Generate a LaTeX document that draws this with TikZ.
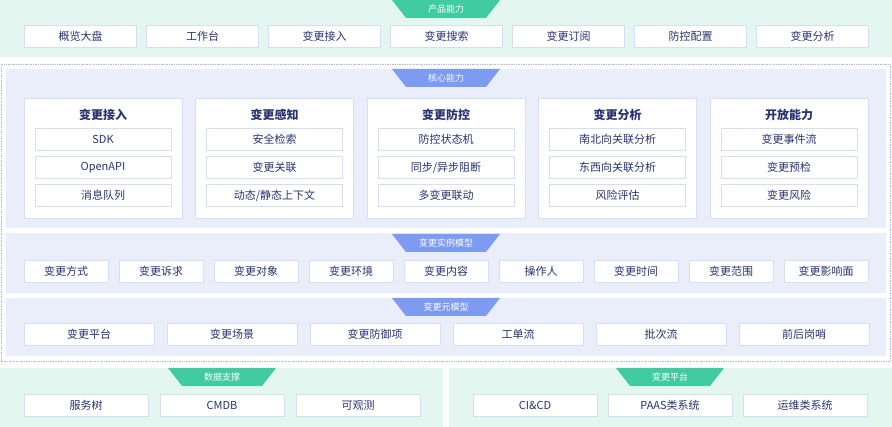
\documentclass[tikz,border=0pt]{standalone}
\usepackage{fontspec}
\setmainfont{Noto Sans CJK SC}
\definecolor{greenbg}{HTML}{E3F6F0}
\definecolor{greenban}{HTML}{41CCA0}
\definecolor{lavbg}{HTML}{EAEEFB}
\definecolor{blueban}{HTML}{7E9BF2}
\definecolor{boxline}{HTML}{D5DFF3}
\definecolor{navy}{HTML}{2A3272}
\definecolor{dotline}{HTML}{A9B9E3}
\tikzset{
  box/.style={draw=boxline, fill=white, line width=0.9pt, minimum height=22, inner sep=0pt, text=navy, font=\fontsize{11}{13}\selectfont},
  colbox/.style={draw=boxline, fill=white, line width=0.9pt, minimum width=158, minimum height=120, inner sep=0pt},
  coltitle/.style={text=navy, font=\fontsize{12}{14}\selectfont\bfseries, inner sep=0pt},
  bantext/.style={text=white, font=\fontsize{9}{11}\selectfont, inner sep=0pt},
  dotframe/.style={draw=dotline, line width=0.7pt, dash pattern=on 0.8pt off 0.9pt}
}
\newcommand\mybanner[4]{% cx, ytop, color, name/text
  \fill[#3] (#1-54,#2) -- (#1+54,#2) -- (#1+40,#2+18) -- (#1-40,#2+18) -- cycle;
}
\begin{document}
\begin{tikzpicture}[x=1pt,y=-1pt]
\useasboundingbox (0,0) rectangle (892,427);
% backgrounds
\fill[greenbg] (0,0) rectangle (892,57);
\draw[dotframe] (1,64.5) rectangle (890.5,361);
\fill[lavbg] (6,69) rectangle (886,228);
\fill[lavbg] (6,233) rectangle (886,293);
\fill[lavbg] (6,298) rectangle (886,356);
\fill[greenbg] (0,368) rectangle (443,427);
\fill[greenbg] (449,368) rectangle (892,427);
% banners
\mybanner{446}{0}{greenban}{}
\node[bantext] (b1) at (446,9) {产品能力};
\mybanner{446}{69}{blueban}{}
\node[bantext] (b2) at (446,78) {核心能力};
\mybanner{446}{234}{blueban}{}
\node[bantext] (b3) at (446,243) {变更实例模型};
\mybanner{446}{298}{blueban}{}
\node[bantext] (b4) at (446,307) {变更元模型};
\mybanner{222}{368}{greenban}{}
\node[bantext] (b5) at (222,377) {数据支撑};
\mybanner{670}{368}{greenban}{}
\node[bantext] (b6) at (670,377) {变更平台};
% top row
\foreach \t [count=\i from 0] in {概览大盘,工作台,变更接入,变更搜索,变更订阅,防控配置,变更分析}
  \node[box, minimum width=112] (p\i) at (80.5+122*\i,36) {\t};
% core columns
\foreach \i in {0,...,4} \node[colbox] (c\i) at (103+171.5*\i,158) {};
\node[coltitle] (c0t) at (103,115) {变更接入};
\node[box, minimum width=136] (c0a) at (103,139.5) {SDK};
\node[box, minimum width=136] (c0b) at (103,167.5) {OpenAPI};
\node[box, minimum width=136] (c0c) at (103,195.5) {消息队列};
\node[coltitle] (c1t) at (274.5,115) {变更感知};
\node[box, minimum width=136] (c1a) at (274.5,139.5) {安全检索};
\node[box, minimum width=136] (c1b) at (274.5,167.5) {变更关联};
\node[box, minimum width=136] (c1c) at (274.5,195.5) {动态/静态上下文};
\node[coltitle] (c2t) at (446,115) {变更防控};
\node[box, minimum width=136] (c2a) at (446,139.5) {防控状态机};
\node[box, minimum width=136] (c2b) at (446,167.5) {同步/异步阻断};
\node[box, minimum width=136] (c2c) at (446,195.5) {多变更联动};
\node[coltitle] (c3t) at (617.5,115) {变更分析};
\node[box, minimum width=136] (c3a) at (617.5,139.5) {南北向关联分析};
\node[box, minimum width=136] (c3b) at (617.5,167.5) {东西向关联分析};
\node[box, minimum width=136] (c3c) at (617.5,195.5) {风险评估};
\node[coltitle] (c4t) at (789,115) {开放能力};
\node[box, minimum width=136] (c4a) at (789,139.5) {变更事件流};
\node[box, minimum width=136] (c4b) at (789,167.5) {变更预检};
\node[box, minimum width=136] (c4c) at (789,195.5) {变更风险};
% instance model
\foreach \t [count=\i from 0] in {变更方式,变更诉求,变更对象,变更环境,变更内容,操作人,变更时间,变更范围,变更影响面}
  \node[box, minimum width=84] (m\i) at (66+95*\i,271.5) {\t};
% meta model
\foreach \t [count=\i from 0] in {变更平台,变更场景,变更防御项,工单流,批次流,前后岗哨}
  \node[box, minimum width=130] (e\i) at (89+143*\i,334.5) {\t};
% bottom
\node[box, minimum width=124] (d0) at (86,405.5) {服务树};
\node[box, minimum width=124] (d1) at (222,405.5) {CMDB};
\node[box, minimum width=124] (d2) at (358,405.5) {可观测};
\node[box, minimum width=124] (f0) at (535,405.5) {CI\&CD};
\node[box, minimum width=124] (f1) at (670,405.5) {PAAS类系统};
\node[box, minimum width=124] (f2) at (805,405.5) {运维类系统};
\end{tikzpicture}
\end{document}
